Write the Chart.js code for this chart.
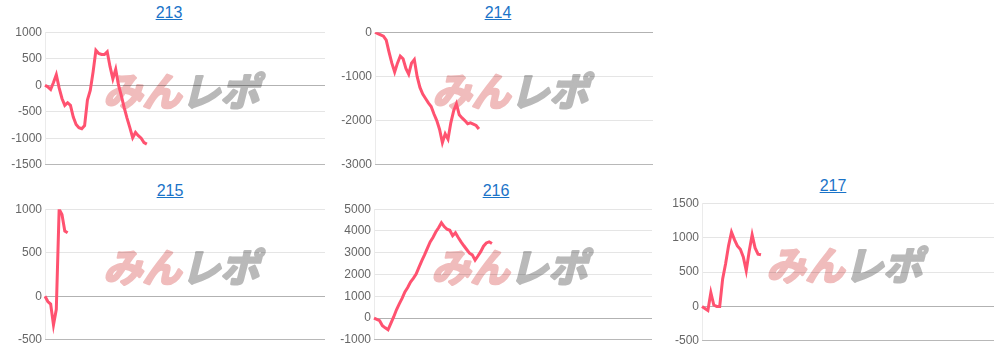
<!DOCTYPE html>
<html>
<head>
<meta charset="utf-8">
<script src="https://cdn.jsdelivr.net/npm/chart.js@4"></script>
<style>
    html, body { margin: 0; padding: 0; background: #fff; }
    body { width: 1003px; height: 348px; position: relative; overflow: hidden; font-family: Arial, "Liberation Sans", sans-serif; }
    .dm-title { position: absolute; width: 200px; text-align: center; font-size: 16px; line-height: 20px; }
    .dm-title a { color: #1a73c8; text-decoration: underline; }
    .dm-box { position: absolute; }
</style>
</head>
<body>
<div class="dm-title" style="left:69px;top:3px"><a href="#">213</a></div>
<div class="dm-title" style="left:398px;top:3px"><a href="#">214</a></div>
<div class="dm-title" style="left:70px;top:181px"><a href="#">215</a></div>
<div class="dm-title" style="left:396px;top:181px"><a href="#">216</a></div>
<div class="dm-title" style="left:733px;top:176px"><a href="#">217</a></div>

<div class="dm-box" style="left:0px;top:22px;width:325px;height:153px"><canvas id="dm-chart-213"></canvas></div>
<div class="dm-box" style="left:330px;top:22px;width:323px;height:153px"><canvas id="dm-chart-214"></canvas></div>
<div class="dm-box" style="left:0px;top:199px;width:325px;height:151px"><canvas id="dm-chart-215"></canvas></div>
<div class="dm-box" style="left:330px;top:199px;width:322px;height:151px"><canvas id="dm-chart-216"></canvas></div>
<div class="dm-box" style="left:660px;top:193px;width:334px;height:158px"><canvas id="dm-chart-217"></canvas></div>

<script>
(function() {
    'use strict';

    // x slots (hidden game count axis)
    const slots = Array.from({length: 100}, (_, i) => i);

    const values213 = [0, -30, -80, 50, 200, -50, -250, -380, -330, -380, -600, -740, -800, -820, -760,
        -280, -100, 250, 660, 600, 580, 580, 630, 350, 120, 300, 0, -200, -420, -620, -800, -990,
        -890, -950, -1000, -1080, -1110];
    const values214 = [0, -30, -60, -90, -180, -450, -700, -900, -700, -540, -600, -820, -950, -700,
        -620, -1000, -1250, -1400, -1500, -1600, -1680, -1850, -2000, -2200, -2500, -2300, -2420,
        -2050, -1780, -1620, -1870, -1940, -2000, -2070, -2050, -2080, -2110, -2190];
    const values215 = [0, -60, -90, -330, -150, 1000, 940, 750, 730];
    const values216 = [0, -60, -120, -350, -450, -540, -250, 50, 380, 650, 900, 1200, 1400, 1650, 1820,
        2020, 2330, 2630, 2900, 3200, 3500, 3700, 3950, 4150, 4380, 4200, 4080, 4030, 3780, 3920,
        3700, 3500, 3320, 3150, 2980, 2900, 2660, 2850, 3050, 3300, 3450, 3500, 3420];
    const values217 = [0, -30, -60, 200, 20, 0, 0, 400, 620, 880, 1080, 970, 880, 830, 720, 520, 800,
        1040, 850, 760, 750];

    const ticks213 = [-1500, -1000, -500, 0, 500, 1000];
    const ticks214 = [-3000, -2000, -1000, 0];
    const ticks215 = [-500, 0, 500, 1000];
    const ticks216 = [-1000, 0, 1000, 2000, 3000, 4000, 5000];
    const ticks217 = [-500, 0, 500, 1000, 1500];

    // watermark, drawn before the grid so grid lines show through it
    const watermark = {
        id: 'dmWatermark',
        beforeDraw(chart) {
            const a = chart.chartArea;
            const ctx = chart.ctx;
            const cx = (a.left + a.right) / 2;
            const cy = (a.top + a.bottom) / 2 - 7;
            ctx.save();
            ctx.font = 'bold 39px "Noto Sans CJK JP"';
            ctx.textBaseline = 'middle';
            ctx.lineJoin = 'round';
            ctx.lineWidth = 2.5;
            const w1 = ctx.measureText('みん').width;
            const w2 = ctx.measureText('レポ').width;
            const x0 = cx - (w1 + w2) / 2;
            ctx.translate(x0, cy);
            ctx.transform(1, 0, -0.25, 1, 0, 0);
            ctx.fillStyle = ctx.strokeStyle = '#f0bcbc';
            ctx.fillText('みん', 0, 0);
            ctx.strokeText('みん', 0, 0);
            ctx.fillStyle = ctx.strokeStyle = '#b9b9b9';
            ctx.fillText('レポ', w1, 0);
            ctx.strokeText('レポ', w1, 0);
            ctx.restore();
        }
    };

    function createChart(id, data, tickList, axisWidth) {
        const ctx = document.getElementById(id).getContext('2d');
        const min = tickList[0];
        const max = tickList[tickList.length - 1];

        return new Chart(ctx, {
            type: 'line',
            data: {
                labels: slots,
                datasets: [{
                    data: data,
                    borderColor: 'rgb(255, 82, 112)',
                    borderWidth: 3,
                    pointRadius: 0,
                    tension: 0,
                    fill: false
                }]
            },
            options: {
                responsive: true,
                maintainAspectRatio: false,
                animation: false,
                layout: { padding: 0 },
                plugins: {
                    legend: { display: false },
                    tooltip: { enabled: false }
                },
                scales: {
                    x: {
                        ticks: { display: false },
                        grid: { color: 'rgba(0,0,0,0)', drawTicks: false },
                        border: { display: true, color: 'rgba(0,0,0,0.2)' }
                    },
                    y: {
                        min: min,
                        max: max,
                        afterBuildTicks: function(scale) {
                            scale.ticks = tickList.map(v => ({value: v}));
                        },
                        afterFit: function(scale) {
                            scale.width = axisWidth;
                        },
                        ticks: {
                            color: '#666',
                            font: { family: 'Arial, "Liberation Sans"', size: 12 },
                            callback: v => String(v)
                        },
                        grid: {
                            color: c => (c.tick && c.tick.value === 0) ? 'rgba(0,0,0,0.3)' : 'rgba(0,0,0,0.1)',
                            drawTicks: false
                        },
                        border: { color: 'rgba(0,0,0,0.08)' }
                    }
                }
            },
            plugins: [watermark]
        });
    }

    createChart('dm-chart-213', values213, ticks213, 45);
    createChart('dm-chart-214', values214, ticks214, 45);
    createChart('dm-chart-215', values215, ticks215, 45);
    createChart('dm-chart-216', values216, ticks216, 44);
    createChart('dm-chart-217', values217, ticks217, 42);
})();
</script>
</body>
</html>
